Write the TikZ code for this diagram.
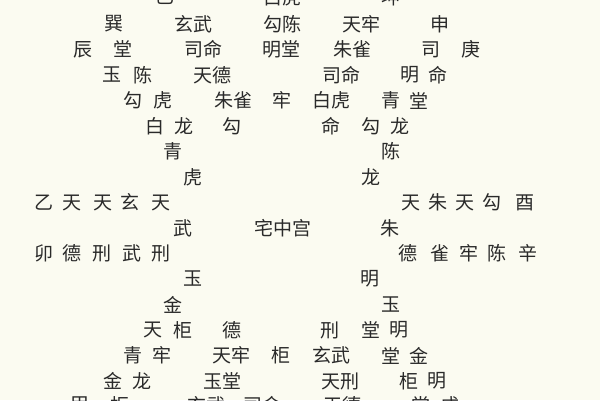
\documentclass[tikz,border=0pt]{standalone}
\usepackage{fontspec}
\newfontfamily\hanfont{Noto Sans CJK SC}
\usetikzlibrary{positioning}
\definecolor{paper}{RGB}{251,251,241}
\definecolor{ink}{RGB}{42,42,42}
\tikzset{glyph/.style={inner sep=0pt, text=ink, font=\hanfont\fontsize{19}{19}\selectfont}}
% one row of the chart: name, height, list of x/text
\newcommand{\glyphrow}[3]{%
  \foreach \x/\t [count=\i] in {#3} \node[glyph] (#1-\i) at (\x,#2) {\t};}

\begin{document}
\begin{tikzpicture}[x=1pt, y=-1pt]

        % Paper
        \fill[paper] (0,0) rectangle (600,400);
        \useasboundingbox (0,0) rectangle (600,400);

        % Upper half
        \glyphrow{top}{-3}{165/巳, 282/白虎, 391/坤}
        \glyphrow{ra}{24}{114/巽, 193/玄武, 282/勾陈, 361/天牢, 440/申}
        \glyphrow{rb}{49.5}{83/辰, 123/堂, 203/司命, 281/明堂, 352/朱雀, 431/司, 471/庚}
        \glyphrow{rc}{75}{112/玉, 143/陈, 212/天德, 341/司命, 410/明, 438/命}
        \glyphrow{rd}{100.5}{133/勾, 163/虎, 233/朱雀, 282/牢, 331/白虎, 391/青, 419/堂}
        \glyphrow{re}{126}{155/白, 184/龙, 232/勾, 331/命, 371/勾, 400/龙}
        \glyphrow{rf}{151.5}{173/青, 391/陈}
        \glyphrow{rg}{177}{193/虎, 371/龙}

        % Middle
        \glyphrow{rh}{202.5}{44/乙, 72/天, 103/天, 130/玄, 161/天, 411/天, 438/朱, 465/天, 492/勾, 525/酉}
        \glyphrow{ri}{228}{183/武, 283/宅中宫, 390/朱}
        \glyphrow{rj}{253.5}{44/卯, 72/德, 102/刑, 132/武, 161/刑, 408/德, 440/雀, 469/牢, 497/陈, 528/辛}

        % Lower half
        \glyphrow{rk}{279}{193/玉, 370/明}
        \glyphrow{rl}{304.5}{173/金, 391/玉}
        \glyphrow{rm}{330}{153/天, 183/柜, 232/德, 330/刑, 371/堂, 399/明}
        \glyphrow{rn}{355.5}{133/青, 162/牢, 231/天牢, 281/柜, 331/玄武, 391/堂, 419/金}
        \glyphrow{ro}{381}{113/金, 142/龙, 222/玉堂, 340/天刑, 409/柜, 437/明}
        \glyphrow{bot}{405}{80/甲, 120/柜, 206/玄武, 262/司命, 342/天德, 421/堂, 450/戌}

    \end{tikzpicture}
\end{document}
